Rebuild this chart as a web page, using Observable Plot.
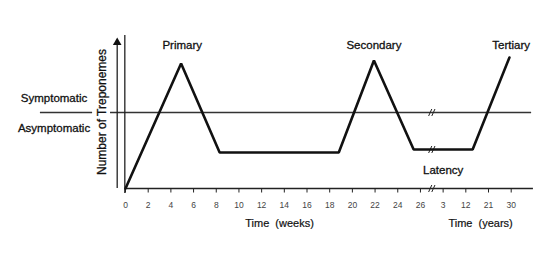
<!DOCTYPE html>
<html>
<head>
<meta charset="utf-8">
<script src="https://cdn.jsdelivr.net/npm/d3@7"></script>
<script src="https://cdn.jsdelivr.net/npm/@observablehq/plot@0.6"></script>
<style>
  html, body { margin: 0; padding: 0; background: #fff; }
  svg { display: block; }
</style>
</head>
<body>
<div id="chart"></div>
<script>
// Tick labels: weeks 0..26 (step 2), then a broken axis in years
const tickLabels = ["0","2","4","6","8","10","12","14","16","18","20","22","24","26","3","12","21","30"];
// Course of infection (number of treponemes, arbitrary units)
const weekTimes  = [0, 4.9, 8.3, 18.8, 21.9, 25.4];
const weekLevels = [0, 125, 36, 36, 128, 39];
const yearTimes  = [14.7, 29.3];
const yearLevels = [39, 131];
const threshold = 76;           // symptomatic / asymptomatic boundary
const stageNames = ["Primary", "Secondary", "Tertiary"];
const stageTimes = [[5, "w"], [21.9, "w"], [30, "y"]];

// position on the (broken) time axis, in tick-index units
const pos = (t, unit) => unit === "w" ? t / 2 : 14 + (t - 3) / 9;
const breakAt = 13.5;

const pts = [
  ...weekTimes.map((t, i) => ({x: pos(t, "w"), y: weekLevels[i]})),
  ...yearTimes.map((t, i) => ({x: pos(t, "y"), y: yearLevels[i]}))
];
const stages = stageNames.map((s, i) => ({x: pos(...stageTimes[i]), y: 143, text: s}));

// break marks "//" on the threshold line, latency plateau and time axis
const breakLevels = [threshold, yearLevels[0], 0];
const slashes = breakLevels.flatMap(y => [-0.07, 0.07].map(o => ({
  x1: breakAt + o - 0.07, x2: breakAt + o + 0.07, y1: y - 3.5, y2: y + 3.5
})));

const font = "'Liberation Sans', Arial, Helvetica, sans-serif";
const txt = {fill: "#111", stroke: "#111", strokeWidth: 0.3};

const chart = Plot.plot({
  width: 548,
  height: 256,
  marginLeft: 125,
  marginRight: 37.3,
  marginTop: 38,
  marginBottom: 68,
  style: {fontFamily: font, background: "#fff"},
  x: {domain: [0, 17], axis: null},
  y: {domain: [0, 150], axis: null},
  marks: [
    // threshold line (split around the y-axis title)
    Plot.ruleY([threshold], {x1: -3.75, x2: -1.45, stroke: "#333", strokeWidth: 1.3}),
    Plot.ruleY([threshold], {x1: -0.66, x2: 17.9, stroke: "#333", strokeWidth: 1.3}),
    // axes
    Plot.ruleY([0], {x1: 0, x2: 17.98, stroke: "#222", strokeWidth: 1.5}),
    Plot.ruleX([-0.03], {y1: -5, y2: 153, stroke: "#222", strokeWidth: 1.3}),
    Plot.ruleX([-0.366], {y1: 0, y2: 145, stroke: "#222", strokeWidth: 1.3}),
    Plot.dot([{x: -0.366, y: 146}], {x: "x", y: "y", symbol: "triangle", r: 3.2, fill: "#111", stroke: "none"}),
    Plot.axisX({
      ticks: d3.range(tickLabels.length),
      tickFormat: i => tickLabels[i],
      tickSize: 4.5,
      tickPadding: 9,
      fontSize: 8.5,
      color: "#444",
      stroke: "#222"
    }),
    // break marks
    Plot.link(slashes, {x1: "x1", x2: "x2", y1: "y1", y2: "y2", stroke: "#222", strokeWidth: 1}),
    // course of infection
    Plot.line(pts, {x: "x", y: "y", stroke: "#111", strokeWidth: 2.6, strokeLinejoin: "miter"}),
    // labels
    Plot.text(stages, {x: "x", y: "y", text: "text", fontSize: 11.5, ...txt}),
    Plot.text(["Latency"], {x: pos(3, "y"), y: 18, fontSize: 11.5, ...txt}),
    Plot.text(["Symptomatic"], {x: -3.15, y: 90.2, fontSize: 11.5, ...txt}),
    Plot.text(["Asymptomatic"], {x: -3.15, y: 60.2, fontSize: 11.5, ...txt}),
    Plot.text(["Number of Treponemes"], {x: -1.01, y: 76.5, rotate: -90, fontSize: 12, ...txt}),
    Plot.text(["Time\u00a0 (weeks)"], {x: 6.79, y: -35, fontSize: 11, ...txt, strokeWidth: 0.2}),
    Plot.text(["Time\u00a0 (years)"], {x: 15.65, y: -35, fontSize: 11, ...txt, strokeWidth: 0.2})
  ]
});
document.getElementById("chart").appendChild(chart);
</script>
</body>
</html>
